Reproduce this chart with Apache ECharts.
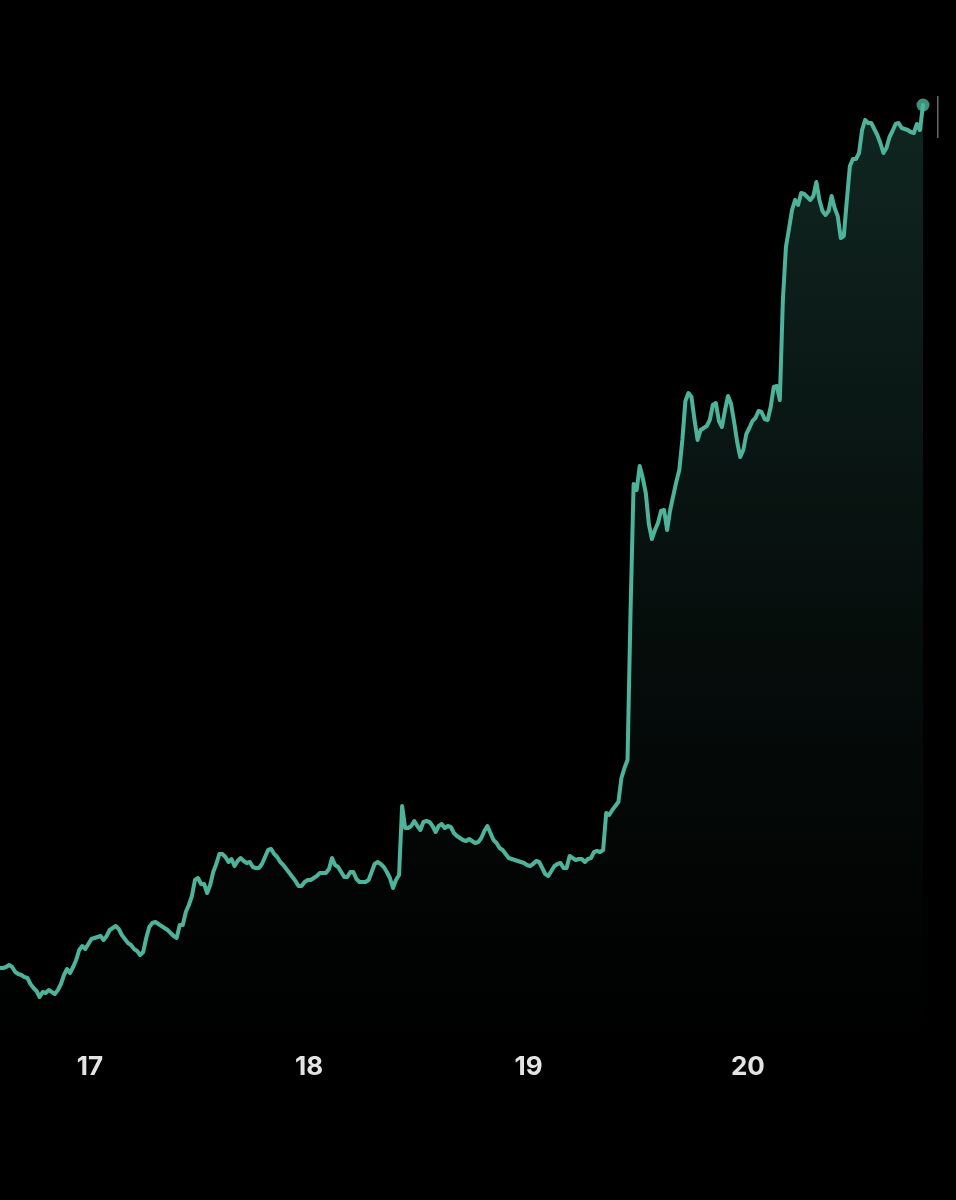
<!DOCTYPE html>
<html>
<head>
<meta charset="utf-8">
<script src="https://cdn.jsdelivr.net/npm/echarts@6/dist/echarts.min.js"></script>
<style>
  html, body { margin: 0; padding: 0; background: #000; }
  #chart { width: 956px; height: 1200px; }
</style>
</head>
<body>
<div id="chart"></div>
<script>
// First sample: day 16, 14:10; samples every 20 minutes
const startDay = 16 + (14 + 10 / 60) / 24;
const stepDays = 20 / 1440;

// Price readings (arbitrary units) at each 20-minute sample
const values = [
  72, 72, 73, 75, 73, 68, 66, 65, 63, 62,
  56, 52, 49, 43, 48, 47, 50, 48, 46, 50,
  56, 65, 71, 67, 73, 80, 90, 94, 91, 96,
  101, 102, 103, 104, 100, 104, 110, 112, 114, 111,
  105, 101, 97, 95, 91, 89, 85, 88, 102, 113,
  117, 118, 116, 114, 112, 110, 107, 104, 102, 115,
  115, 128, 135, 144, 160, 162, 156, 156, 147, 155,
  168, 176, 186, 186, 183, 178, 181, 174, 179, 182,
  179, 177, 178, 173, 172, 172, 176, 183, 190, 191,
  186, 183, 178, 175, 171, 167, 163, 159, 154, 154,
  158, 160, 160, 162, 164, 167, 167, 167, 171, 182,
  175, 173, 168, 163, 163, 168, 168, 161, 158, 158,
  158, 160, 168, 176, 178, 176, 173, 168, 162, 152,
  160, 165, 234, 212, 212, 214, 219, 214, 210, 218,
  219, 218, 214, 208, 214, 216, 212, 214, 213, 207,
  204, 202, 200, 199, 201, 199, 197, 198, 202, 209,
  214, 207, 200, 197, 192, 190, 186, 182, 181, 180,
  179, 178, 177, 175, 174, 176, 179, 178, 172, 166,
  164, 169, 174, 176, 177, 172, 172, 184, 182, 180,
  181, 181, 178, 181, 182, 188, 189, 188, 190, 227,
  225, 230, 234, 238, 262, 272, 280, 430, 556, 550,
  574, 562, 547, 516, 501, 510, 517, 529, 530, 510,
  530, 544, 558, 570, 600, 639, 647, 643, 620, 600,
  610, 612, 614, 620, 635, 637, 619, 613, 630, 644,
  636, 618, 598, 583, 590, 606, 612, 619, 622, 629,
  628, 621, 620, 633, 653, 654, 640, 740, 793, 811,
  830, 840, 835, 847, 846, 843, 840, 844, 858, 840,
  829, 825, 829, 844, 832, 824, 802, 804, 840, 874,
  881, 881, 887, 910, 920, 917, 917, 911, 905, 897,
  887, 892, 903, 909, 916, 917, 912, 911, 910, 908,
  907, 916, 910, 935
];

// Day-of-month tick labels
const dayTicks = [17, 18, 19, 20];

const times = values.map((_, i) => startDay + i * stepDays);
const seriesData = values.map((v, i) => [times[i], v]);
const lastPoint = seriesData[seriesData.length - 1];

const chart = echarts.init(document.getElementById('chart'));
chart.setOption({
  backgroundColor: '#000000',
  animation: false,
  grid: { left: 0, right: 33, top: 0, bottom: 160, containLabel: false },
  xAxis: {
    type: 'value',
    min: times[0],
    max: times[times.length - 1],
    axisLine: { show: false },
    axisTick: { show: false },
    splitLine: { show: false },
    axisLabel: {
      customValues: dayTicks,
      formatter: v => String(Math.round(v)),
      color: '#e4e4e4',
      fontFamily: 'Inter, "Noto Sans", sans-serif',
      fontWeight: 700,
      fontSize: 26,
      margin: 14
    }
  },
  yAxis: {
    type: 'value',
    min: 0,
    max: 1040,
    show: false
  },
  series: [
    {
      type: 'line',
      data: seriesData,
      showSymbol: false,
      symbol: 'none',
      smooth: false,
      lineStyle: { color: '#4db39a', width: 4, join: 'round', cap: 'round' },
      areaStyle: {
        color: new echarts.graphic.LinearGradient(0, 0, 0, 1, [
          { offset: 0, color: 'rgba(77,179,154,0.30)' },
          { offset: 0.55, color: 'rgba(77,179,154,0.11)' },
          { offset: 1, color: 'rgba(77,179,154,0)' }
        ])
      },
      z: 2
    },
    {
      type: 'scatter',
      data: [lastPoint],
      symbol: 'circle',
      symbolSize: 13,
      itemStyle: { color: '#4db39a' },
      z: 3
    }
  ],
  graphic: [
    {
      type: 'rect',
      shape: { x: 937, y: 96, width: 1.5, height: 42 },
      style: { fill: 'rgba(150,150,150,0.7)' }
    }
  ]
});
</script>
</body>
</html>
